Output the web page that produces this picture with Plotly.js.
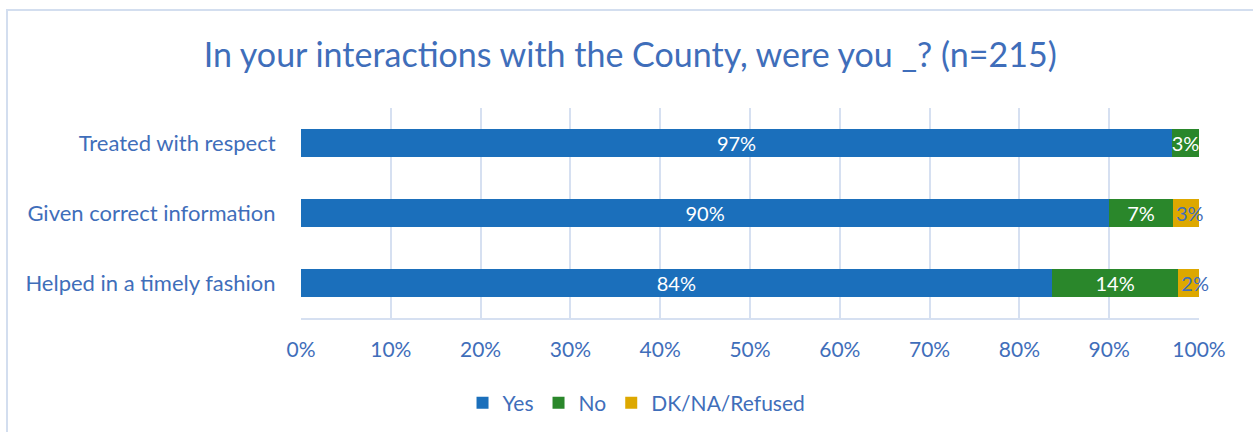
<!DOCTYPE html>
<html>
<head>
<meta charset="utf-8">
<script src="https://cdn.plot.ly/plotly-3.0.1.min.js"></script>
<style>
  html, body { margin: 0; padding: 0; background: #ffffff; overflow: hidden; }
  #frame { position: absolute; left: 6px; top: 9px; width: 1400px; height: 600px; border: 2px solid #D3DEEF; box-sizing: border-box; }
  #chart { position: absolute; left: 0; top: 0; width: 1253px; height: 432px; }
</style>
</head>
<body>
<div id="frame"></div>
<div id="chart"></div>
<script>
const categories = ["Treated with respect", "Given correct information", "Helped in a timely fashion"];
const yesValues = [97.0, 90.0, 83.6];
const noValues = [3.0, 7.1, 14.1];
const dkValues = [0, 2.9, 2.3];
const seriesNames = ["Yes", "No", "DK/NA/Refused"];
const tickValues = [0, 10, 20, 30, 40, 50, 60, 70, 80, 90, 100];

const blueText = "#3F6EBA";
const font = "Lato, 'Noto Sans', sans-serif";
const lbl = arr => arr.map(v => v > 0 ? Math.round(v) + "%" : "");

function barTrace(name, vals, color, textColor, anchor) {
  return {
    type: "bar", orientation: "h", name: name,
    y: categories, x: vals,
    marker: { color: color },
    width: 0.4,
    text: lbl(vals),
    textposition: "inside",
    insidetextanchor: anchor,
    textangle: 0,
    constraintext: "none",
    textfont: { family: font, size: 20, color: textColor },
    cliponaxis: false,
    hoverinfo: "x+name"
  };
}

const data = [
  barTrace(seriesNames[0], yesValues, "#1B6FBB", "#ffffff", "middle"),
  barTrace(seriesNames[1], noValues, "#2A872B", "#ffffff", "middle"),
  barTrace(seriesNames[2], dkValues, "#DDA800", blueText, "start")
];

const layout = {
  width: 1253, height: 432,
  margin: { l: 301, r: 54, t: 108, b: 114 },
  paper_bgcolor: "rgba(0,0,0,0)",
  plot_bgcolor: "rgba(0,0,0,0)",
  barmode: "stack",
  showlegend: true,
  font: { family: font, color: blueText },
  title: {
    text: "In your interactions with the County, were you _? (n=215)",
    font: { family: font, size: 34, color: blueText },
    x: 0.503, xref: "container", xanchor: "center",
    y: 0.873, yref: "container", yanchor: "middle"
  },
  xaxis: {
    range: [0, 100],
    tickvals: tickValues,
    ticktext: tickValues.map(v => v + "%"),
    showgrid: true, gridcolor: "#D6E0F1", gridwidth: 2,
    zeroline: false,
    showline: true, linecolor: "#D6E0F1", linewidth: 2, mirror: false,
    tickfont: { family: font, size: 21, color: blueText },
    ticks: "outside", ticklen: 12, tickcolor: "rgba(0,0,0,0)",
    fixedrange: true
  },
  yaxis: {
    type: "category",
    autorange: "reversed",
    showgrid: false, zeroline: false, showline: false,
    tickfont: { family: font, size: 22, color: blueText },
    ticks: "outside", ticklen: 20, tickcolor: "rgba(0,0,0,0)",
    fixedrange: true
  },
  legend: {
    orientation: "h",
    x: 0.508, xref: "container", xanchor: "center",
    y: 0.067, yref: "container", yanchor: "middle",
    font: { family: font, size: 21, color: blueText },
    itemwidth: 30,
    tracegroupgap: 0,
    traceorder: "normal"
  }
};

Plotly.newPlot("chart", data, layout, { displayModeBar: false, staticPlot: true });
</script>
</body>
</html>
